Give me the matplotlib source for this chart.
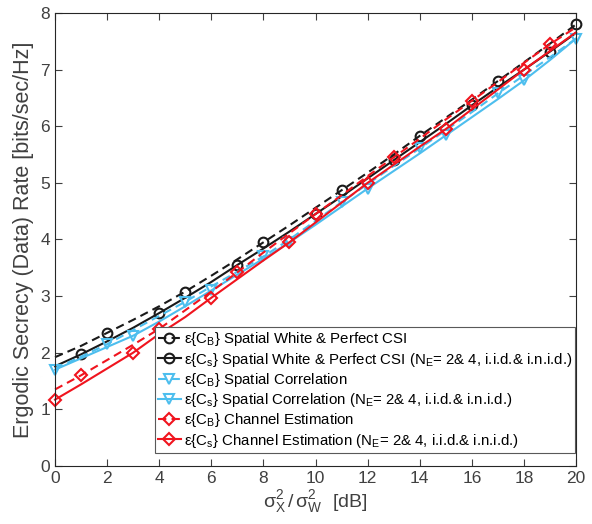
import matplotlib
matplotlib.use('Agg')
import matplotlib.pyplot as plt

plt.rcParams['font.family'] = ['Liberation Sans', 'DejaVu Sans']
plt.rcParams['mathtext.fontset'] = 'custom'
plt.rcParams['mathtext.rm'] = 'Liberation Sans'
plt.rcParams['mathtext.it'] = 'Liberation Sans'

snr = list(range(0, 21))

# white & perfect CSI
cb_white = [1.92, 2.12, 2.35, 2.58, 2.82, 3.08, 3.36, 3.65, 3.95, 4.25, 4.56,
            4.87, 5.18, 5.50, 5.83, 6.15, 6.47, 6.80, 7.13, 7.46, 7.80]
cs_white = [1.76, 1.97, 2.20, 2.44, 2.70, 2.97, 3.25, 3.55, 3.84, 4.14, 4.45,
            4.76, 5.08, 5.40, 5.72, 6.04, 6.37, 6.69, 7.00, 7.32, 7.65]
# spatial correlation
cb_corr = [1.72, 1.93, 2.15, 2.40, 2.65, 2.90, 3.17, 3.43, 3.70, 4.00, 4.33,
           4.66, 4.98, 5.30, 5.61, 5.93, 6.25, 6.58, 6.90, 7.22, 7.55]
cs_corr = [1.70, 1.90, 2.10, 2.30, 2.55, 2.82, 3.10, 3.38, 3.66, 3.95, 4.26,
           4.58, 4.90, 5.21, 5.52, 5.84, 6.16, 6.48, 6.81, 7.17, 7.55]
# channel estimation
cb_est = [1.35, 1.60, 1.87, 2.14, 2.42, 2.75, 3.08, 3.42, 3.77, 4.11, 4.45,
          4.78, 5.12, 5.45, 5.78, 6.12, 6.45, 6.78, 7.12, 7.45, 7.75]
cs_est = [1.17, 1.44, 1.72, 2.00, 2.33, 2.63, 2.97, 3.30, 3.63, 3.95, 4.30,
          4.65, 5.00, 5.32, 5.64, 5.95, 6.30, 6.65, 7.00, 7.33, 7.66]

tail = r' (N$_\mathrm{E}$= 2& 4, i.i.d.& i.n.i.d.)'
labels = [
    r'ε{C$_\mathrm{B}$} Spatial White & Perfect CSI',
    r'ε{C$_\mathrm{s}$} Spatial White & Perfect CSI' + tail,
    r'ε{C$_\mathrm{B}$} Spatial Correlation',
    r'ε{C$_\mathrm{s}$} Spatial Correlation' + tail,
    r'ε{C$_\mathrm{B}$} Channel Estimation',
    r'ε{C$_\mathrm{s}$} Channel Estimation' + tail,
]

black = '#1a1a1a'
cyan = '#4DBEEE'
red = '#F0141E'
gray = '#404040'

fig = plt.figure(figsize=(5.92, 5.24), dpi=100)
ax = fig.add_axes([0.093, 0.111, 0.880, 0.864])

series = [
    (cb_white, black, 'o', '--', 2, 7),
    (cs_white, black, 'o', '-', 1, 7),
    (cb_corr, cyan, 'v', '--', 2, 7.5),
    (cs_corr, cyan, 'v', '-', 0, 7.5),
    (cb_est, red, 'D', '--', 1, 6),
    (cs_est, red, 'D', '-', 0, 6),
]
for (ys, col, mk, ls, start, ms), lab in zip(series, labels):
    line, = ax.plot(snr, ys, color=col, linestyle=ls, linewidth=1.5,
                    marker=mk, markersize=ms, markerfacecolor='none',
                    markeredgewidth=1.5, markevery=slice(start, None, 3),
                    label=lab, clip_on=False)
    if ls == '--':
        line.set_dashes((4, 2.5))

ax.set_xlim(0, 20)
ax.set_ylim(0, 8)
ax.set_xticks(range(0, 21, 2))
ax.set_yticks(range(0, 9))
ax.tick_params(direction='in', top=True, right=True, length=5,
               labelsize=12.5, colors=gray, width=0.8)
for s in ax.spines.values():
    s.set_color('#262626')
    s.set_linewidth(0.8)

ax.set_ylabel('Ergodic Secrecy (Data) Rate [bits/sec/Hz]', fontsize=15.5,
              color=gray, labelpad=5)
ax.set_xlabel(r'$\mathrm{\sigma_X^2\,/\,\sigma_W^2}$  [dB]', fontsize=14,
              color=gray, labelpad=2)

leg = ax.legend(loc='lower right', bbox_to_anchor=(0.998, 0.029),
                fontsize=10.8, handlelength=1.5, handletextpad=0.2,
                labelspacing=0.15, borderpad=0.2, borderaxespad=0,
                fancybox=False, edgecolor='#595959', framealpha=1)
leg.get_frame().set_linewidth(0.8)

fig.savefig('out.png', dpi=100)
